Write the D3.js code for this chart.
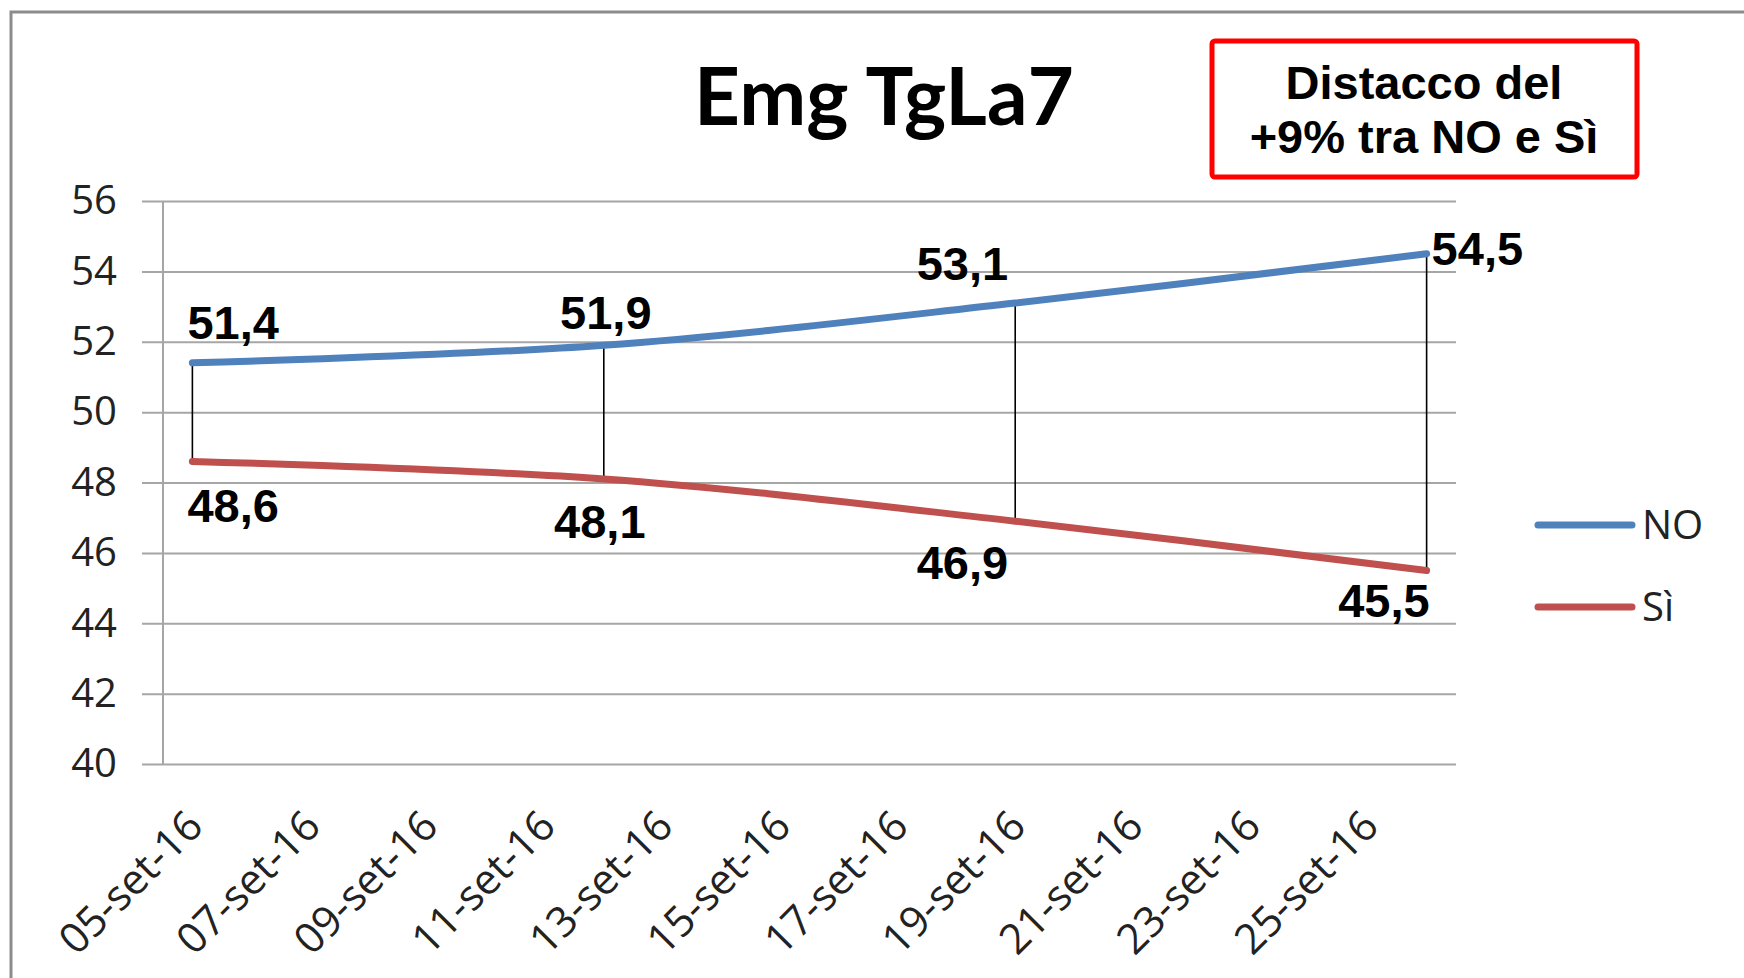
<!DOCTYPE html>
<html>
<head>
<meta charset="utf-8">
<title>Emg TgLa7</title>
<script src="https://d3js.org/d3.v7.min.js"></script>
<style>
  body { margin: 0; background: #fff; }
  svg { display: block; }
  .grid line { stroke: #a6a6a6; stroke-width: 2px; }
  .axis text { font-family: "Open Sans", sans-serif; font-size: 40px; fill: #222; }
  .val { font-family: "Liberation Sans", Arial, sans-serif; font-weight: bold; font-size: 47px; fill: #000; }
</style>
</head>
<body>
<svg width="1744" height="978"></svg>
<script>
// every day on the axis, 05 to 26 September 2016
var days = ["05-set-16","06-set-16","07-set-16","08-set-16","09-set-16","10-set-16",
            "11-set-16","12-set-16","13-set-16","14-set-16","15-set-16","16-set-16",
            "17-set-16","18-set-16","19-set-16","20-set-16","21-set-16","22-set-16",
            "23-set-16","24-set-16","25-set-16","26-set-16"];
var dayLabels = ["05-set-16","07-set-16","09-set-16","11-set-16","13-set-16","15-set-16",
                 "17-set-16","19-set-16","21-set-16","23-set-16","25-set-16"];
var pollDays = ["05-set-16","12-set-16","19-set-16","26-set-16"];
var noValues = [51.4, 51.9, 53.1, 54.5];
var siValues = [48.6, 48.1, 46.9, 45.5];
var yTicks = [40, 42, 44, 46, 48, 50, 52, 54, 56];

var svg = d3.select("svg");
var plotL = 163, plotR = 1456, plotT = 201, plotB = 764;

var x = d3.scaleBand().domain(days).range([plotL, plotR]);
var y = d3.scaleLinear().domain([40, 56]).range([plotB, plotT]);
var cx = function (d) { return x(d) + x.bandwidth() / 2; };
var fmt = function (v) { return String(v).replace(".", ","); };

// outer frame (only top and left edges show)
svg.append("rect").attr("x", 11).attr("y", 12).attr("width", 1800).attr("height", 1000)
  .attr("fill", "none").attr("stroke", "#8c8c8c").attr("stroke-width", 3);

// gridlines + y labels: ticks drawn leftwards from the right end
var ga = svg.append("g").attr("class", "axis grid").attr("transform", "translate(" + plotR + ",0)")
  .call(d3.axisLeft(y).tickValues(yTicks).tickSize(plotR - 142).tickPadding(25));
ga.select(".domain").remove();

svg.append("line").attr("x1", plotL).attr("x2", plotL).attr("y1", plotT).attr("y2", plotB)
  .attr("stroke", "#a6a6a6").attr("stroke-width", 2);

var gx = svg.append("g").attr("class", "axis").attr("transform", "translate(0," + plotB + ")")
  .call(d3.axisBottom(x).tickValues(dayLabels).tickSize(0));
gx.select(".domain").remove();
gx.selectAll("text")
  .style("font-size", "42px")
  .attr("text-anchor", "end")
  .attr("transform", "translate(" + (x.bandwidth() / 2 - 27) + ",54) rotate(-45)")
  .attr("x", 0).attr("y", 0).attr("dy", "0.35em");

// title
svg.append("text").attr("x", 884).attr("y", 125).attr("text-anchor", "middle")
  .style("font-family", "Lato, sans-serif").style("font-weight", "bold").style("font-size", "80px")
  .text("Emg TgLa7");

// hi-low lines
svg.selectAll(".hilo").data(pollDays).enter().append("line")
  .attr("x1", cx).attr("x2", cx)
  .attr("y1", function (d, i) { return y(noValues[i]); })
  .attr("y2", function (d, i) { return y(siValues[i]); })
  .attr("stroke", "#000").attr("stroke-width", 1.6);

var line = d3.line().curve(d3.curveCatmullRom)
  .x(function (d) { return cx(d[0]); }).y(function (d) { return y(d[1]); });

svg.append("path").datum(d3.zip(pollDays, siValues)).attr("d", line)
  .attr("fill", "none").attr("stroke", "#C0504D").attr("stroke-width", 7).attr("stroke-linecap", "round");
svg.append("path").datum(d3.zip(pollDays, noValues)).attr("d", line)
  .attr("fill", "none").attr("stroke", "#4F81BD").attr("stroke-width", 7).attr("stroke-linecap", "round");

// data labels, placed by hand like in the original
var noPlace = [["start", -5, -24], ["middle", 2, -16], ["end", -7, -23], ["start", 5, 11]];
var siPlace = [["start", -5, 61], ["middle", -4, 59], ["end", -7, 58], ["end", 3, 47]];

function labels(vals, place) {
  svg.append("g").selectAll("text").data(vals).enter().append("text")
    .attr("class", "val")
    .attr("text-anchor", function (d, i) { return place[i][0]; })
    .attr("x", function (d, i) { return cx(pollDays[i]) + place[i][1]; })
    .attr("y", function (d, i) { return y(d) + place[i][2]; })
    .text(fmt);
}
labels(noValues, noPlace);
labels(siValues, siPlace);

// legend
var legend = [["NO", "#4F81BD"], ["Sì", "#C0504D"]];
var lg = svg.append("g").selectAll("g").data(legend).enter().append("g")
  .attr("transform", function (d, i) { return "translate(1538," + (525 + i * 82) + ")"; });
lg.append("line").attr("x1", 0).attr("x2", 94).attr("stroke", function (d) { return d[1]; })
  .attr("stroke-width", 7).attr("stroke-linecap", "round");
lg.append("text").attr("x", 104).attr("y", 14)
  .style("font-family", "Open Sans, sans-serif").style("font-size", "40px").attr("fill", "#222")
  .text(function (d) { return d[0]; });

// note box
svg.append("rect").attr("x", 1212).attr("y", 41).attr("width", 425).attr("height", 136).attr("rx", 3)
  .attr("fill", "#fff").attr("stroke", "#ff0000").attr("stroke-width", 5);
svg.append("text").attr("class", "val").attr("x", 1424).attr("y", 99).attr("text-anchor", "middle")
  .text("Distacco del");
svg.append("text").attr("class", "val").attr("x", 1424).attr("y", 153).attr("text-anchor", "middle")
  .text("+9% tra NO e Sì");
</script>
</body>
</html>
